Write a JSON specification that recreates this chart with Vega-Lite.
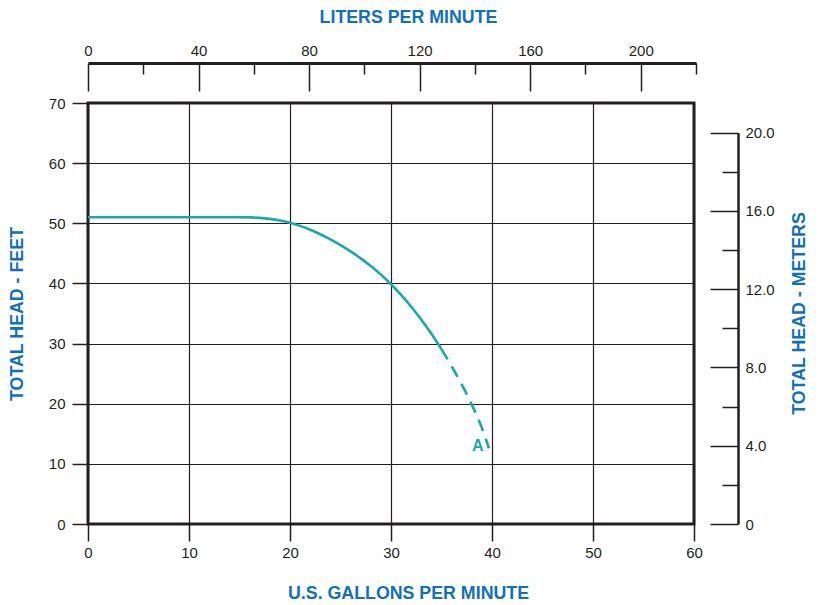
{
  "$schema": "https://vega.github.io/schema/vega-lite/v6.json",
  "width": 606,
  "height": 421,
  "autosize": {"type": "none"},
  "padding": {"left": 88, "top": 103, "right": 128, "bottom": 81},
  "background": "white",
  "config": {
    "view": {"stroke": "#231f20", "strokeWidth": 3},
    "font": "Liberation Sans",
    "axis": {
      "labelFont": "Liberation Sans",
      "labelFontSize": 15,
      "labelColor": "#231f20",
      "titleFont": "Liberation Sans",
      "titleFontSize": 17.8,
      "titleFontWeight": "bold",
      "titleColor": "#1170b8",
      "tickColor": "#231f20",
      "domainColor": "#231f20",
      "labelFlush": false,
      "labelOverlap": false,
      "gridColor": "#231f20",
      "gridOpacity": 1
    }
  },
  "layer": [
    {
      "data": {
        "values": [
          {"gpm": 0, "ft": 51, "seg": "solid"},
          {"gpm": 5, "ft": 51, "seg": "solid"},
          {"gpm": 10, "ft": 51, "seg": "solid"},
          {"gpm": 15, "ft": 51, "seg": "solid"},
          {"gpm": 16, "ft": 50.98, "seg": "solid"},
          {"gpm": 17, "ft": 50.9, "seg": "solid"},
          {"gpm": 18, "ft": 50.73, "seg": "solid"},
          {"gpm": 19, "ft": 50.46, "seg": "solid"},
          {"gpm": 20, "ft": 50.08, "seg": "solid"},
          {"gpm": 21, "ft": 49.57, "seg": "solid"},
          {"gpm": 22, "ft": 48.93, "seg": "solid"},
          {"gpm": 23, "ft": 48.18, "seg": "solid"},
          {"gpm": 24, "ft": 47.33, "seg": "solid"},
          {"gpm": 25, "ft": 46.38, "seg": "solid"},
          {"gpm": 26, "ft": 45.33, "seg": "solid"},
          {"gpm": 27, "ft": 44.17, "seg": "solid"},
          {"gpm": 28, "ft": 42.89, "seg": "solid"},
          {"gpm": 29, "ft": 41.46, "seg": "solid"},
          {"gpm": 30, "ft": 39.86, "seg": "solid"},
          {"gpm": 31, "ft": 38.08, "seg": "solid"},
          {"gpm": 32, "ft": 36.12, "seg": "solid"},
          {"gpm": 33, "ft": 33.97, "seg": "solid"},
          {"gpm": 34, "ft": 31.62, "seg": "solid"},
          {"gpm": 35, "ft": 29.05, "seg": "solid"},
          {"gpm": 35, "ft": 29.05, "seg": "dashed"},
          {"gpm": 36, "ft": 26.25, "seg": "dashed"},
          {"gpm": 37, "ft": 23.2, "seg": "dashed"},
          {"gpm": 38, "ft": 19.85, "seg": "dashed"},
          {"gpm": 39, "ft": 15.95, "seg": "dashed"},
          {"gpm": 39.7, "ft": 12.6, "seg": "dashed"}
        ]
      },
      "encoding": {
        "x": {
          "field": "gpm",
          "type": "quantitative",
          "scale": {"domain": [0, 60], "nice": false, "zero": false},
          "axis": {
            "values": [0, 10, 20, 30, 40, 50, 60],
            "tickSize": 17,
            "tickWidth": 1.5,
            "domain": false,
            "grid": true,
            "gridWidth": 1.2,
            "labelPadding": 4,
            "title": "U.S. GALLONS PER MINUTE",
            "titlePadding": 24,
            "titleX": 320
          }
        },
        "y": {
          "field": "ft",
          "type": "quantitative",
          "scale": {"domain": [0, 70], "nice": false, "zero": false},
          "axis": {
            "values": [0, 10, 20, 30, 40, 50, 60, 70],
            "tickSize": 16,
            "tickWidth": 1.5,
            "domain": false,
            "grid": true,
            "gridWidth": 1.2,
            "labelPadding": 7,
            "title": "TOTAL HEAD - FEET",
            "titlePadding": 22
          }
        }
      },
      "layer": [
        {
          "transform": [{"filter": "datum.seg === 'solid'"}],
          "mark": {"type": "line", "color": "#1aa9a9", "strokeWidth": 2.6, "interpolate": "monotone"},
          "encoding": {"order": {"field": "gpm"}}
        },
        {
          "transform": [{"filter": "datum.seg === 'dashed'"}],
          "mark": {"type": "line", "color": "#1aa9a9", "strokeWidth": 2.6, "interpolate": "monotone", "strokeDash": [12, 8]},
          "encoding": {"order": {"field": "gpm"}}
        },
        {
          "data": {"values": [{"gpm": 38.6, "ft": 12.9, "label": "A"}]},
          "mark": {"type": "text", "color": "#1aa9a9", "fontSize": 16, "fontWeight": "bold", "font": "Liberation Sans", "align": "center", "baseline": "middle"},
          "encoding": {"text": {"field": "label"}}
        }
      ]
    },
    {
      "data": {"values": [{"lpm": 0}, {"lpm": 220}]},
      "mark": {"type": "rule", "opacity": 0},
      "encoding": {
        "x": {
          "field": "lpm",
          "type": "quantitative",
          "scale": {"domain": [0, 220], "range": [0, 608], "nice": false, "zero": false},
          "axis": {
            "orient": "top",
            "offset": 40,
            "values": [0, 20, 40, 60, 80, 100, 120, 140, 160, 180, 200, 220],
            "tickSize": {"condition": {"test": "datum.value % 40 === 0", "value": -28}, "value": -11},
            "tickWidth": 1.5,
            "domainWidth": 3,
            "labelPadding": 33,
            "labelExpr": "datum.value % 40 === 0 ? datum.label : ''",
            "grid": false,
            "title": "LITERS PER MINUTE",
            "titleBaseline": "middle",
            "titleY": -46,
            "titleX": 320
          }
        }
      }
    },
    {
      "data": {"values": [{"m": 0}, {"m": 20}]},
      "mark": {"type": "rule", "opacity": 0},
      "encoding": {
        "y": {
          "field": "m",
          "type": "quantitative",
          "scale": {"domain": [0, 20], "range": [421, 29.7], "nice": false, "zero": false},
          "axis": {
            "orient": "right",
            "offset": 44,
            "values": [0, 2, 4, 6, 8, 10, 12, 14, 16, 18, 20],
            "tickSize": {"condition": {"test": "datum.value % 4 === 0", "value": -28}, "value": -16},
            "tickWidth": 1.5,
            "domainWidth": 2.5,
            "labelPadding": 35,
            "labelExpr": "datum.value === 0 ? '0' : (datum.value % 4 === 0 ? format(datum.value, '.1f') : '')",
            "grid": false,
            "title": "TOTAL HEAD - METERS",
            "titleAngle": 270,
            "titlePadding": 34,
            "titleY": 210
          }
        }
      }
    }
  ],
  "resolve": {
    "scale": {"x": "independent", "y": "independent"},
    "axis": {"x": "independent", "y": "independent"}
  }
}
